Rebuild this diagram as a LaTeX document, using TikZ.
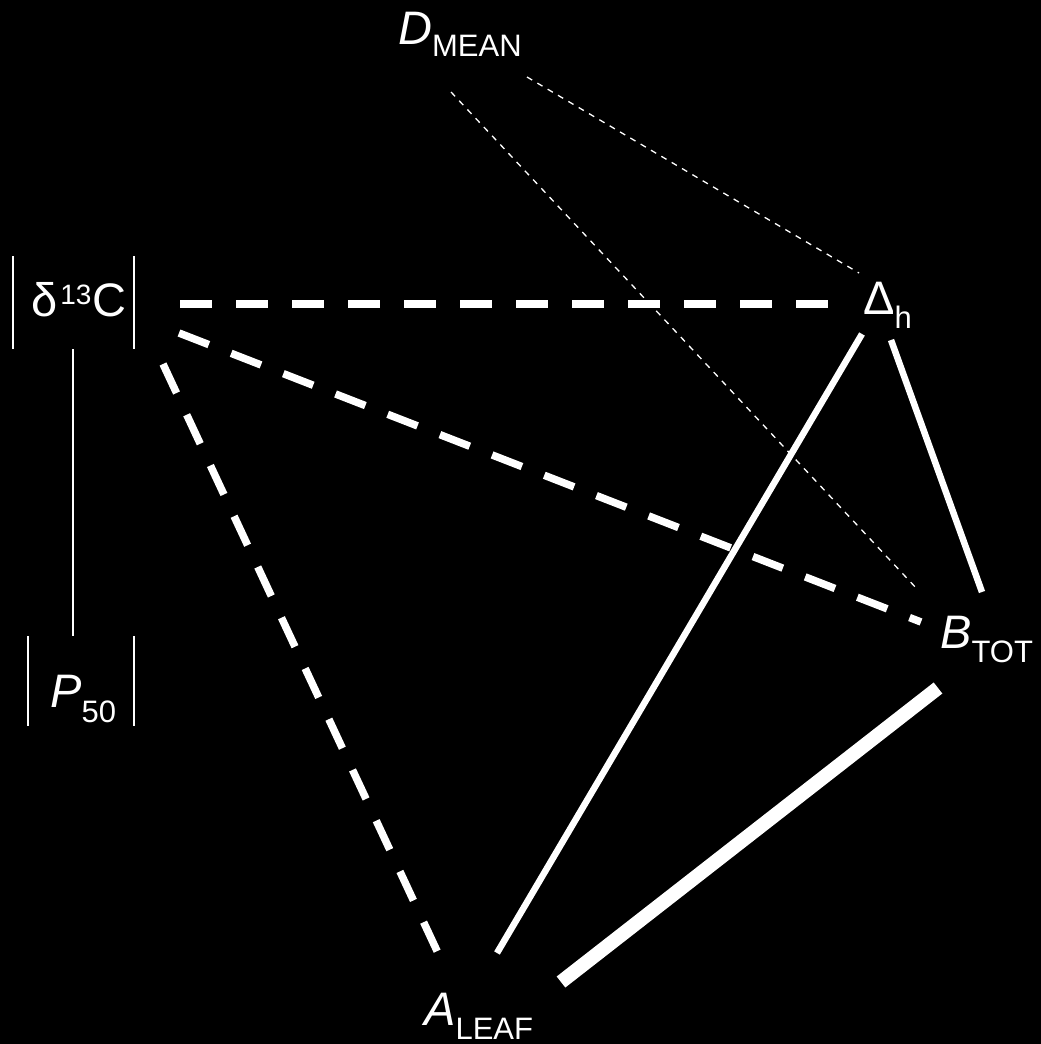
\documentclass[tikz,border=0pt]{standalone}
\usepackage{fontspec}
\setmainfont{Liberation Sans}
\newcommand\sbx[2][14pt]{\raisebox{-#1}{\fontsize{31}{36}\selectfont #2}}
\begin{document}
\begin{tikzpicture}[x=1pt,y=-1pt,
  lbl/.style={text=white, inner sep=0pt, anchor=base west, font=\fontsize{47}{56}\selectfont},
  thinbar/.style={draw=white, line width=1.5pt},
  dashedthick/.style={draw=white, line width=7.5pt, dash pattern=on 32pt off 24pt},
  dotthin/.style={draw=white, line width=1.3pt, dash pattern=on 6pt off 6pt},
  solidmid/.style={draw=white, line width=6.5pt},
  solidthick/.style={draw=white, line width=14pt}]
\fill[black] (0,0) rectangle (1041,1044);
\useasboundingbox (0,0) rectangle (1041,1044);

% labels
\node[lbl] (dmean) at (398,44) {\textit{D}\sbx[12pt]{MEAN}};
\node[lbl] (dc) at (31,316) {δ\kern3pt\raisebox{12pt}{\fontsize{28}{32}\selectfont 13}\kern1pt C};
\node[lbl] (p50) at (50,707) {\textit{P}\sbx[15pt]{50}};
\node[lbl] (dh) at (863,314) {Δ\sbx{h}};
\node[lbl] (btot) at (940,648) {\textit{B}\sbx{TOT}};
\node[lbl] (aleaf) at (424,1025) {\textit{A}\sbx{LEAF}};

% bars around |delta13C| and |P50|
\coordinate (dcL1) at (13,256); \coordinate (dcL2) at (13,349);
\coordinate (dcR1) at (134,256); \coordinate (dcR2) at (134,349);
\coordinate (dcB) at (73,349); \coordinate (pT) at (73,636);
\coordinate (pL1) at (28,636); \coordinate (pL2) at (28,726);
\coordinate (pR1) at (134,636); \coordinate (pR2) at (134,726);
\draw[thinbar] (dcL1) -- (dcL2);
\draw[thinbar] (dcR1) -- (dcR2);
\draw[thinbar] (dcB) -- (pT);
\draw[thinbar] (pL1) -- (pL2);
\draw[thinbar] (pR1) -- (pR2);

% connector end points
\coordinate (dc-dh) at (180,304);  \coordinate (dh-dc) at (845,304);
\coordinate (dc-bt) at (179,333);  \coordinate (bt-dc) at (921,622);
\coordinate (dc-al) at (163,364);  \coordinate (al-dc) at (438,953);
\coordinate (dh-al) at (862,334);  \coordinate (al-dh) at (497,953);
\coordinate (dh-bt) at (891,340);  \coordinate (bt-dh) at (982,592);
\coordinate (bt-al) at (938,688);  \coordinate (al-bt) at (561,982);
\coordinate (dm-dh) at (527,77);   \coordinate (dh-dm) at (859,273);
\coordinate (dm-bt) at (451,92);   \coordinate (bt-dm) at (918,590);

\draw[dashedthick] (dc-dh) -- (dh-dc);
\draw[dashedthick] (dc-bt) -- (bt-dc);
\draw[dashedthick] (dc-al) -- (al-dc);
\draw[solidmid] (dh-al) -- (al-dh);
\draw[solidmid] (dh-bt) -- (bt-dh);
\draw[solidthick] (bt-al) -- (al-bt);
\draw[dotthin] (dm-dh) -- (dh-dm);
\draw[dotthin] (dm-bt) -- (bt-dm);
\end{tikzpicture}
\end{document}
